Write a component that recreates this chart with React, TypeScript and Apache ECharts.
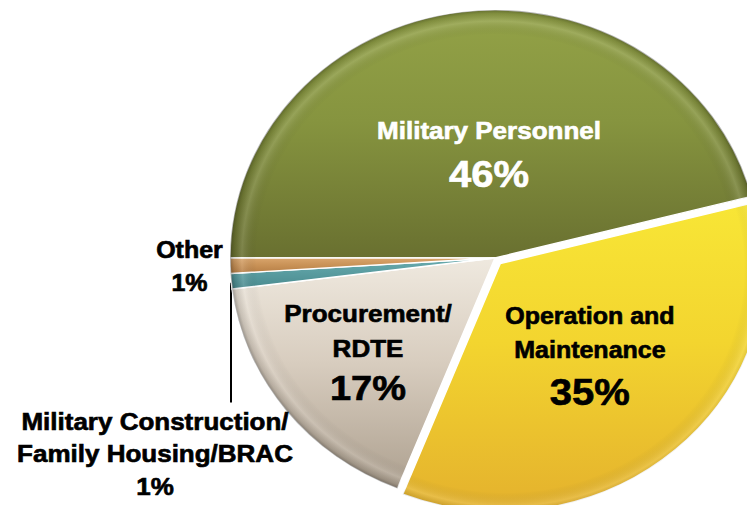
import React, { useEffect, useRef } from "react";
import * as echarts from "echarts";

// ---- data ----
const categories = [
  "Military Personnel",
  "Operation and Maintenance",
  "Procurement/RDTE",
  "Military Construction/Family Housing/BRAC",
  "Other",
];
const shares = [46, 35, 17, 1, 1];
const labelLines = [
  ["Military Personnel"],
  ["Operation and", "Maintenance"],
  ["Procurement/", "RDTE"],
  ["Military Construction/", "Family Housing/BRAC"],
  ["Other"],
];
const explodedIndex = 1;

// ---- layout / styles ----
const SY = 0.936; // vertical squash to mimic the tilted (elliptical) pie
const W = 747;
const H = 540;
const CX = 495;
const CY = 275.6;
const R = 265;
const START = 180;
const OFFSET = 8;
const FONT = "'Liberation Sans', Arial, Helvetica, sans-serif";

const fills = [
  { top: "#93a247", mid: "#86943f", bot: "#697030" },
  { top: "#f8e636", mid: "#f3d52f", bot: "#e4b12d" },
  { top: "#efe9df", mid: "#d8cdbf", bot: "#ada08f" },
  { top: "#6aacaf", mid: "#5a9da1", bot: "#4a8a8e" },
  { top: "#d9a56c", mid: "#c99257", bot: "#b57d45" },
];

const labelStyle = [
  { x: 489, y: 165.4, color: "#ffffff", nSize: 26, nLH: 40, pSize: 40, pLH: 52, outside: false },
  { x: 592.5, y: 376.7, color: "#000000", nSize: 25, nLH: 36, pSize: 40, pLH: 55, outside: false },
  { x: 368, y: 377.7, color: "#000000", nSize: 26, nLH: 37, pSize: 38, pLH: 48.6, outside: false },
  { x: 155, y: 484.8, color: "#000000", nSize: 26, nLH: 35, pSize: 26, pLH: 35, outside: true },
  { x: 189.5, y: 284.1, color: "#000000", nSize: 25, nLH: 35, pSize: 25, pLH: 35, outside: true },
];
const leaderX = 231;
const leaderTop = 302;
const leaderBottom = 430;

function linear(f: { top: string; mid: string; bot: string }) {
  return {
    type: "linear",
    x: 0,
    y: 0,
    x2: 0,
    y2: 1,
    colorStops: [
      { offset: 0, color: f.top },
      { offset: 0.45, color: f.mid },
      { offset: 1, color: f.bot },
    ],
  };
}

function rim(cx: number, cy: number) {
  return {
    type: "radial",
    x: cx,
    y: cy,
    r: R,
    global: true,
    colorStops: [
      { offset: 0, color: "rgba(0,0,0,0)" },
      { offset: 0.9, color: "rgba(0,0,0,0)" },
      { offset: 0.955, color: "rgba(255,255,255,0.13)" },
      { offset: 0.985, color: "rgba(0,0,0,0.12)" },
      { offset: 1, color: "rgba(0,0,0,0.32)" },
    ],
  };
}

function explodedShift() {
  const total = shares.reduce((a, b) => a + b, 0);
  let acc = 0;
  for (let i = 0; i < explodedIndex; i++) acc += shares[i];
  const a0 = START - (acc / total) * 360;
  const a1 = a0 - (shares[explodedIndex] / total) * 360;
  const mid = ((a0 + a1) / 2) * (Math.PI / 180);
  return [Math.cos(mid) * OFFSET, -Math.sin(mid) * OFFSET];
}

export default function App() {
  const ref = useRef<HTMLDivElement>(null);

  useEffect(() => {
    if (!ref.current) return;
    const chart = echarts.init(ref.current, null, { renderer: "svg" });
    const [sx, sy] = explodedShift();

    const baseData = categories.map((name, i) => {
      const s = labelStyle[i];
      const lines = labelLines[i];
      const common = {
        fontFamily: FONT,
        fontWeight: "bold",
        color: s.color,
        textBorderColor: s.color,
        textBorderWidth: 0.7,
        align: "center",
      };
      return {
        name,
        value: shares[i],
        selected: i === explodedIndex,
        itemStyle: { color: linear(fills[i]) },
        label: {
          show: true,
          position: s.outside ? "outside" : "inside",
          formatter: (p: any) =>
            lines.map((l) => `{n|${l}}`).join("\n") + `\n{p|${p.value}%}`,
          rich: {
            n: { ...common, fontSize: s.nSize, lineHeight: s.nLH },
            p: { ...common, fontSize: s.pSize, lineHeight: s.pLH },
          },
        },
        labelLine: {
          show: i === 3,
          lineStyle: { color: "#000000", width: 2 },
        },
      };
    });

    const overlayData = categories.map((name, i) => ({
      name,
      value: shares[i],
      selected: i === explodedIndex,
      itemStyle: {
        color: i === explodedIndex ? rim(CX + sx, CY + sy) : rim(CX, CY),
      },
    }));

    chart.setOption({
      animation: false,
      backgroundColor: "#ffffff",
      series: [
        {
          type: "pie",
          center: [CX, CY],
          radius: [0, R],
          startAngle: START,
          clockwise: true,
          selectedMode: "single",
          selectedOffset: OFFSET,
          avoidLabelOverlap: false,
          itemStyle: { borderColor: "#ffffff", borderWidth: 1.5 },
          emphasis: { disabled: true },
          data: baseData,
          labelLayout: (params: any) => {
            const s = labelStyle[params.dataIndex];
            const out: any = {
              x: s.x,
              y: s.y,
              align: "center",
              verticalAlign: "middle",
            };
            if (params.dataIndex === 3) {
              out.labelLinePoints = [
                [leaderX, leaderTop],
                [leaderX, (leaderTop + leaderBottom) / 2],
                [leaderX, leaderBottom],
              ];
            }
            return out;
          },
        },
        {
          type: "pie",
          silent: true,
          center: [CX, CY],
          radius: [0, R],
          startAngle: START,
          clockwise: true,
          selectedMode: "single",
          selectedOffset: OFFSET,
          label: { show: false },
          labelLine: { show: false },
          emphasis: { disabled: true },
          itemStyle: { borderWidth: 0 },
          data: overlayData,
        },
      ],
    });
    return () => chart.dispose();
  }, []);

  return (
    <div
      style={{
        position: "fixed",
        left: 0,
        top: 0,
        width: W,
        height: 505,
        overflow: "hidden",
        background: "#ffffff",
      }}
    >
      <div
        ref={ref}
        style={{
          width: W,
          height: H,
          transform: `scaleY(${SY})`,
          transformOrigin: "0 0",
        }}
      />
    </div>
  );
}
